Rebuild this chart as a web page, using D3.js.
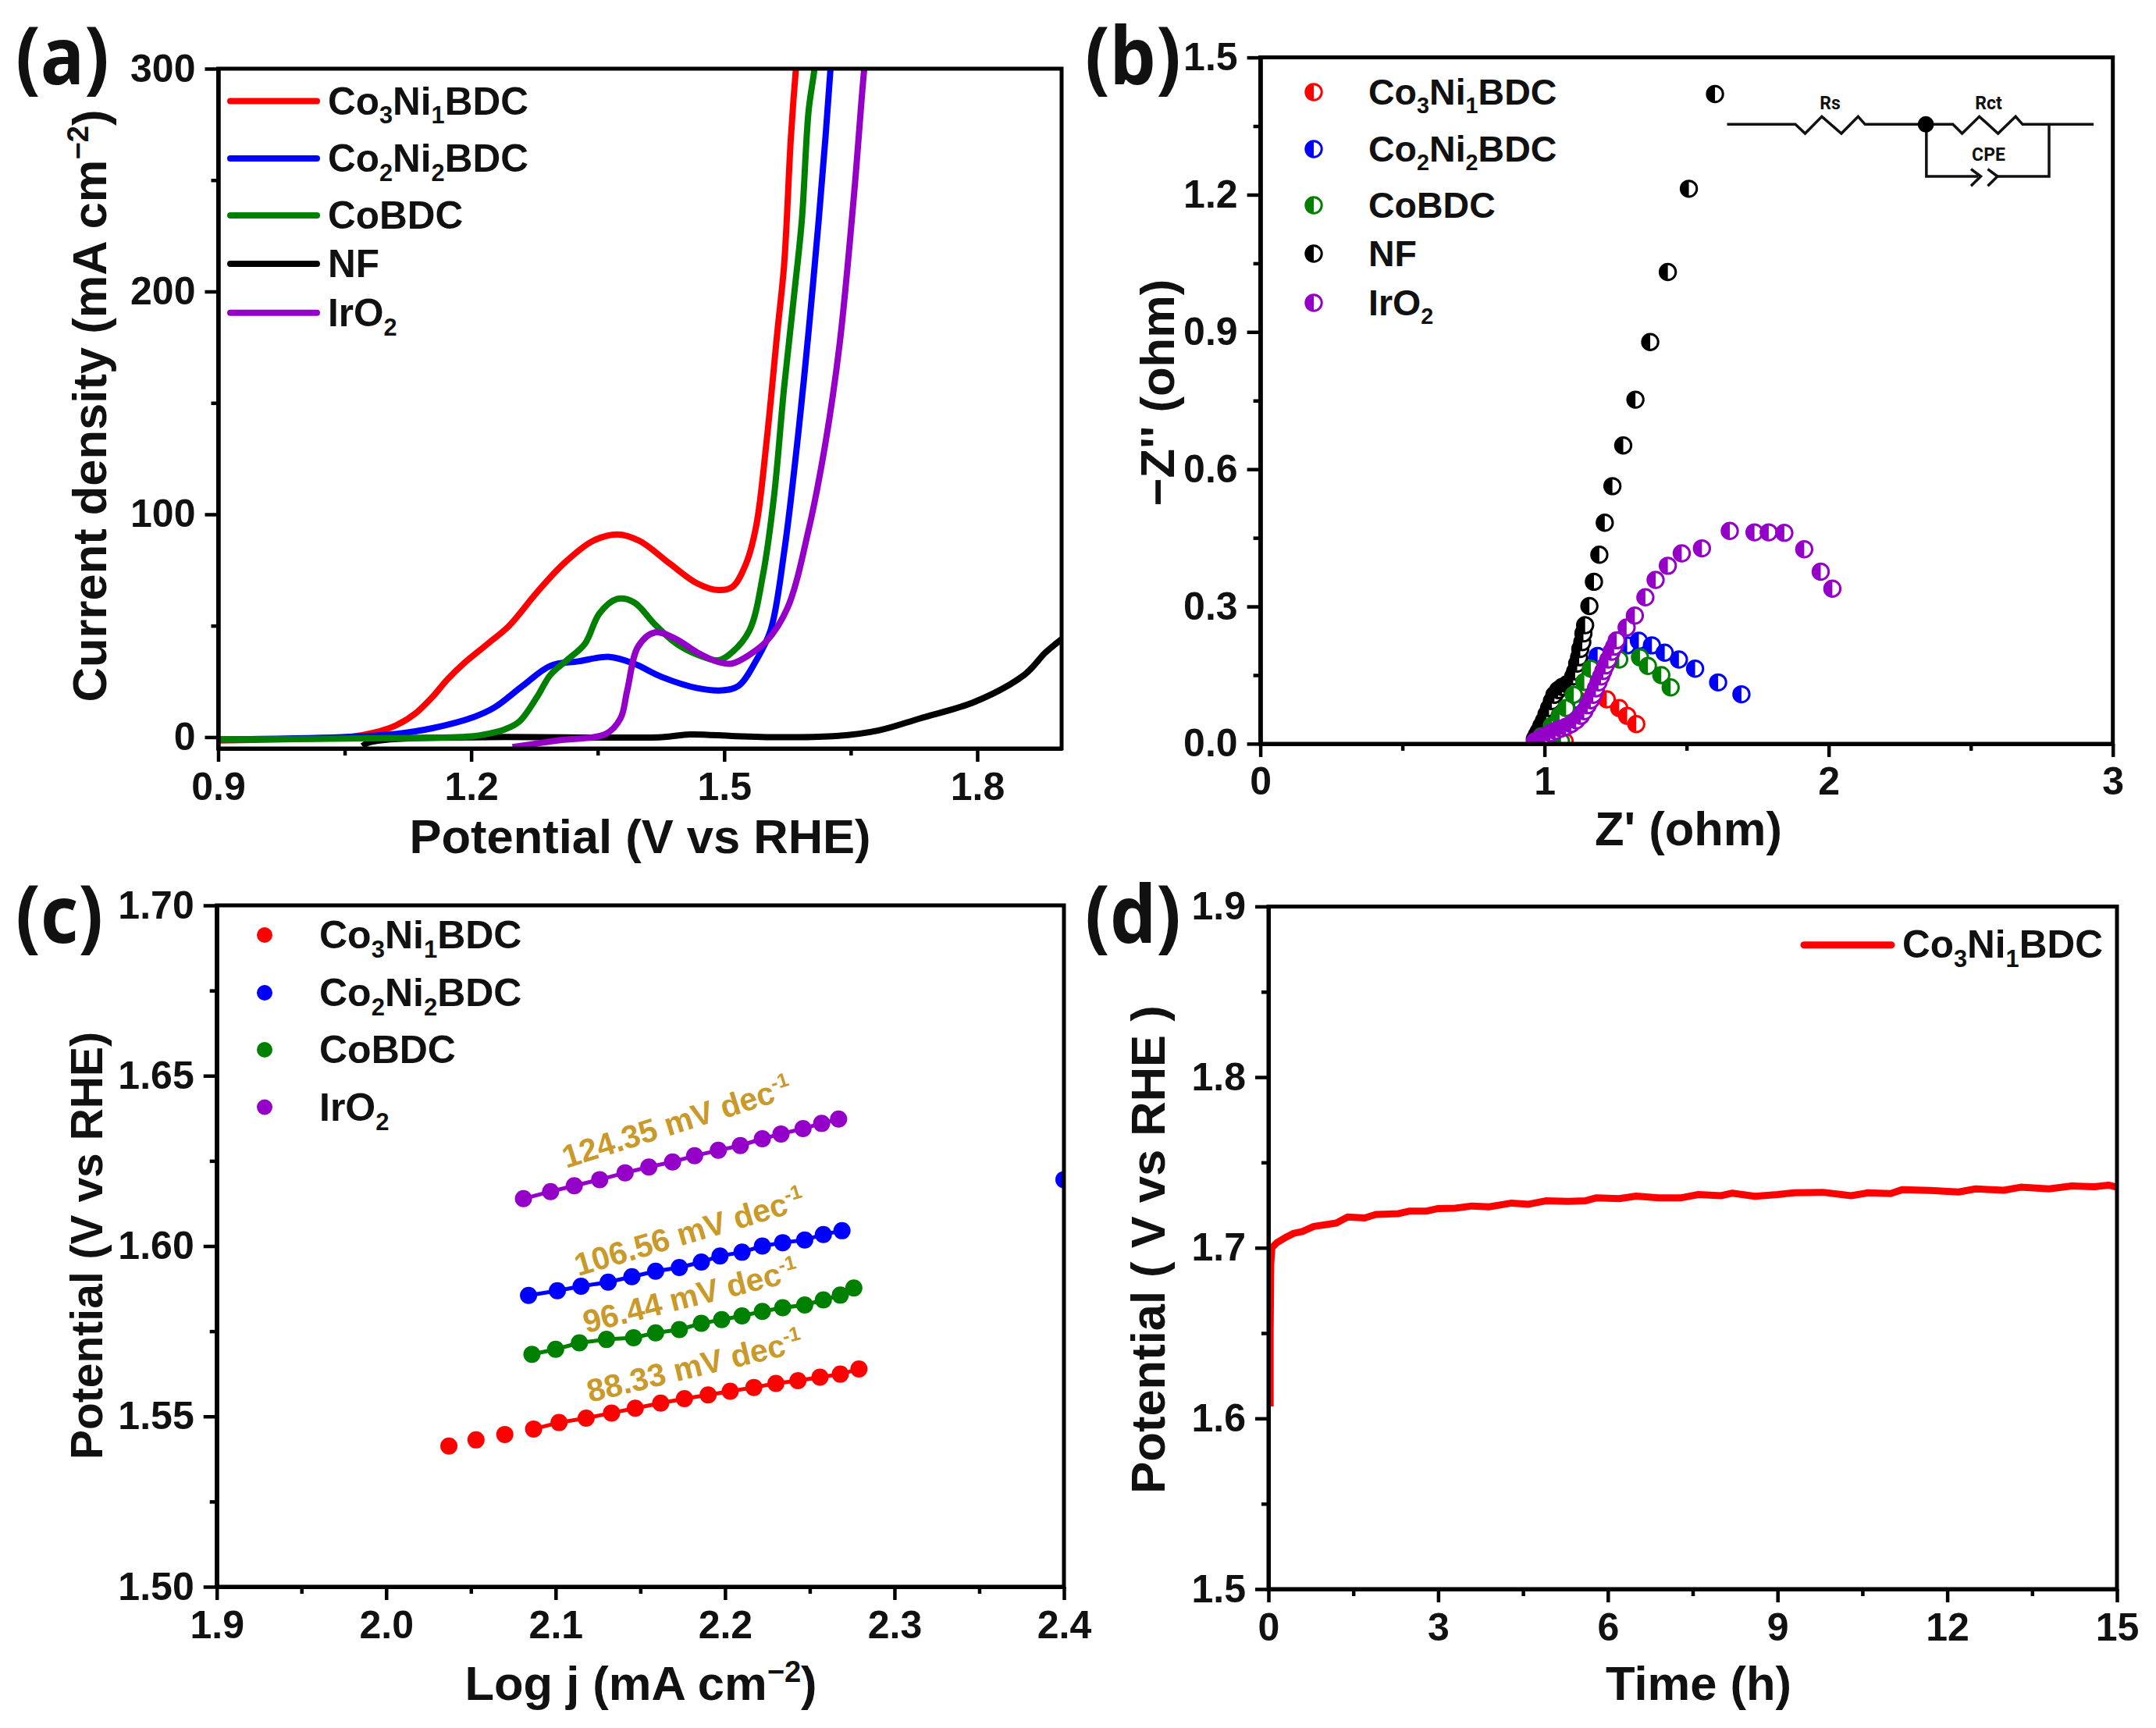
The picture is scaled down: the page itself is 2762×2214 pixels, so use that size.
<!DOCTYPE html>
<html>
<head>
<meta charset="utf-8">
<script src="https://d3js.org/d3.v7.min.js"></script>
<style>
html,body{margin:0;padding:0;background:#fff}
svg{display:block}
text{font-family:"Liberation Sans",Arial,sans-serif;font-weight:700;fill:#111}
</style>
</head>
<body>
<div id="chart"></div>
<script>
// ---------- Panel (a) LSV curves: [potential, current density]
const lsvRed = [[0.9,-1.5],[1.0,-0.8],[1.055,0],[1.085,2],[1.112,5.5],[1.135,11],[1.154,18],[1.172,26],[1.191,33],[1.22,42],[1.245,50],[1.278,65],[1.31,78],[1.344,88],[1.373,91],[1.40,88],[1.435,78],[1.468,69],[1.493,66],[1.51,67.5],[1.526,78],[1.538,95],[1.55,132],[1.563,182],[1.571,212],[1.579,269],[1.585,300],[1.59,320]];
const lsvBlue = [[0.9,-1],[1.046,0],[1.112,1.5],[1.154,4],[1.203,9],[1.228,13.4],[1.261,23],[1.294,32],[1.327,34],[1.364,36],[1.393,33],[1.426,27],[1.468,22],[1.497,21],[1.517,23],[1.538,34.5],[1.555,48],[1.571,83],[1.588,137],[1.6,182],[1.612,232],[1.62,269],[1.626,300],[1.63,320]];
const lsvGreen = [[0.9,-1],[1.1,-0.5],[1.2,0.3],[1.22,1.5],[1.24,3.5],[1.257,7],[1.278,18],[1.294,28],[1.315,35],[1.335,42],[1.352,55.5],[1.373,62],[1.393,60.5],[1.418,50.5],[1.443,42],[1.468,37],[1.493,34.5],[1.509,38],[1.53,48],[1.546,73],[1.559,108],[1.571,157],[1.583,199],[1.592,232],[1.6,281],[1.607,300],[1.612,320]];
const lsvBlack = [[1.071,-4],[1.078,-2.5],[1.104,-1],[1.22,0],[1.426,0],[1.459,1.2],[1.509,0.5],[1.55,0],[1.633,0.5],[1.683,3],[1.732,8.4],[1.798,16],[1.856,28],[1.881,38],[1.9,44]];
const lsvPurple = [[1.249,-4.5],[1.302,-1.5],[1.36,1.5],[1.377,8.4],[1.385,21],[1.398,40.7],[1.418,47],[1.443,44],[1.468,38],[1.493,33.7],[1.509,33],[1.53,37],[1.55,43],[1.575,58],[1.6,93],[1.62,132],[1.637,177],[1.654,244],[1.666,300],[1.672,320]];

// ---------- Panel (b) Nyquist points: [Z', -Z'']
const eisRed = [[1.323,.043],[1.291,.061],[1.263,.078],[1.219,.097],[1.117,.096],[1.071,.005],[1.09,.07],[1.06,.045],[1.03,.025],[1.0,.012]];
const eisBlue = [[1.693,.108],[1.611,.134],[1.53,.164],[1.473,.184],[1.423,.199],[1.378,.215],[1.332,.225],[1.291,.215],[1.187,.192],[1.154,.17],[1.126,.141],[1.108,.096],[1.08,.07],[1.045,.035],[1.01,.012]];
const eisGreen = [[1.444,.123],[1.411,.15],[1.364,.17],[1.336,.189],[1.263,.184],[1.163,.164],[1.14,.135],[1.103,.107],[1.076,.078],[1.053,.061],[1.026,.039],[.989,.016],[1.058,.005]];
const eisBlack = [[1.6,1.42],[1.508,1.213],[1.434,1.031],[1.372,.878],[1.32,.752],[1.277,.652],[1.239,.563],[1.212,.483],[1.193,.413],[1.174,.354],[1.158,.301],[1.143,.259],[1.137,.241],[1.133,.222],[1.126,.207],[1.122,.189],[1.115,.175],[1.108,.158],[1.101,.147],[1.094,.135],[1.079,.13],[1.062,.124],[1.048,.117],[1.035,.107],[1.026,.093],[1.016,.078],[1.007,.064],[.998,.05],[.989,.039],[.98,.027],[.973,.019],[.966,.01]];
const eisPurple = [[2.013,.339],[1.972,.376],[1.914,.425],[1.844,.461],[1.789,.462],[1.739,.462],[1.652,.465],[1.554,.427],[1.483,.416],[1.434,.389],[1.391,.358],[1.355,.32],[1.318,.28],[1.289,.254],[1.254,.226],[1.245,.212],[1.236,.201],[1.225,.184],[1.215,.171],[1.207,.159],[1.199,.147],[1.19,.134],[1.181,.121],[1.172,.107],[1.163,.095],[1.152,.084],[1.14,.071],[1.128,.061],[1.112,.051],[1.094,.043],[1.076,.037],[1.058,.033],[1.039,.028],[1.021,.023],[1.003,.017],[.984,.011],[.966,.005]];

// ---------- Panel (c) Tafel points: [log j, potential]
const tafelRed = [[2.037,1.5413],[2.053,1.5431],[2.07,1.5447],[2.087,1.5463],[2.102,1.5482],[2.118,1.5495],[2.133,1.551],[2.147,1.5524],[2.162,1.5539],[2.176,1.5552],[2.19,1.5563],[2.203,1.5574],[2.217,1.5585],[2.23,1.5597],[2.243,1.5605],[2.256,1.5615],[2.268,1.5624],[2.279,1.5639]];
const tafelRedFitStart = 3;
const tafelBlue = [[2.084,1.5855],[2.101,1.5869],[2.115,1.5882],[2.131,1.5894],[2.145,1.591],[2.159,1.5926],[2.173,1.5937],[2.186,1.5953],[2.197,1.5971],[2.21,1.5982],[2.222,1.6],[2.234,1.601],[2.247,1.6018],[2.258,1.6034],[2.269,1.6045]];
const tafelBlueStray = [[2.4,1.6195]];
const tafelGreen = [[2.086,1.5682],[2.1,1.5697],[2.114,1.5716],[2.13,1.5726],[2.146,1.5731],[2.159,1.5745],[2.173,1.5755],[2.186,1.5773],[2.198,1.5784],[2.21,1.5795],[2.222,1.5808],[2.234,1.5819],[2.247,1.5827],[2.258,1.5842],[2.268,1.5856],[2.276,1.5877]];
const tafelPurple = [[2.081,1.6139],[2.097,1.616],[2.111,1.6177],[2.126,1.6195],[2.141,1.6215],[2.155,1.6232],[2.169,1.6247],[2.182,1.6265],[2.196,1.6281],[2.209,1.6295],[2.222,1.6315],[2.233,1.6329],[2.246,1.6345],[2.257,1.636],[2.267,1.6373]];
const tafelSlopes = ["124.35 mV dec","106.56 mV dec","96.44 mV dec","88.33 mV dec"];

// ---------- Panel (d) stability: [time, potential]
const stability = [[0.03,1.607],[0.03,1.65],[0.04,1.69],[0.06,1.7],[0.15,1.703],[0.3,1.706],[0.45,1.7085],[0.6,1.7095],[0.8,1.7125],[1.0,1.7135],[1.2,1.7145],[1.4,1.718],[1.7,1.7175],[1.9,1.7195],[2.3,1.72],[2.5,1.7215],[2.8,1.7215],[3.0,1.723],[3.3,1.7232],[3.6,1.7245],[3.9,1.724],[4.3,1.7262],[4.6,1.7255],[4.9,1.7275],[5.3,1.7272],[5.6,1.7275],[5.8,1.7293],[6.2,1.7288],[6.5,1.7303],[6.9,1.7292],[7.3,1.7293],[7.6,1.7312],[8.0,1.7305],[8.2,1.732],[8.6,1.7302],[9.0,1.7312],[9.3,1.7322],[9.8,1.7325],[10.3,1.7305],[10.6,1.7322],[11.0,1.7318],[11.2,1.734],[11.7,1.7336],[12.2,1.7327],[12.5,1.7345],[13.0,1.7337],[13.3,1.7355],[13.8,1.7345],[14.2,1.7362],[14.6,1.7358],[14.85,1.7367],[15,1.7355]];

// ---------- Labels and tick values
const names = ["Co_3Ni_1BDC","Co_2Ni_2BDC","CoBDC","NF","IrO_2"];
const cRed="#ff0000", cBlue="#0000ff", cGreen="#008000", cBlack="#000000", cPurple="#9400c8", cGold="#c9992a";
const aXTicks=[0.9,1.2,1.5,1.8], aXMinor=[1.05,1.35,1.65], aYTicks=[0,100,200,300], aYMinor=[50,150,250];
const bXTicks=[0,1,2,3], bXMinor=[0.5,1.5,2.5], bYTicks=[0,0.3,0.6,0.9,1.2,1.5], bYMinor=[0.15,0.45,0.75,1.05,1.35];
const cXTicks=[1.9,2.0,2.1,2.2,2.3,2.4], cXMinor=[1.95,2.05,2.15,2.25,2.35], cYTicks=[1.5,1.55,1.6,1.65,1.7], cYMinor=[1.525,1.575,1.625,1.675];
const dXTicks=[0,3,6,9,12,15], dXMinor=[1.5,4.5,7.5,10.5,13.5], dYTicks=[1.5,1.6,1.7,1.8,1.9], dYMinor=[1.55,1.65,1.75,1.85];

const W=2762,H=2214;
const svg=d3.select("#chart").append("svg").attr("width",W).attr("height",H).attr("viewBox",`0 0 ${W} ${H}`);
svg.append("rect").attr("width",W).attr("height",H).attr("fill","#fff");

function rich(sel,str,size){
  const parts=[];const re=/_(\d)|\^\{([^}]*)\}/g;let m,last=0;
  while((m=re.exec(str))){ if(m.index>last)parts.push([str.slice(last,m.index),0]);
    if(m[1])parts.push([m[1],1]); else parts.push([m[2],-1]); last=re.lastIndex;}
  if(last<str.length)parts.push([str.slice(last),0]);
  let pend=0;
  parts.forEach(([t,k])=>{
    const span=sel.append("tspan").text(t);
    let dy=pend;
    if(k===1){span.attr("font-size",size*0.62);dy+=size*0.24;pend=-size*0.24;}
    else if(k===-1){span.attr("font-size",size*0.62);dy-=size*0.38;pend=size*0.38;}
    else pend=0;
    if(dy)span.attr("dy",dy);
  });
  return sel;
}
const TICK=50, TITLE=61.5;
function panel(o){
  const g=svg.append("g");
  const x=d3.scaleLinear().domain(o.xd).range([o.l,o.r]);
  const y=d3.scaleLinear().domain(o.yd).range([o.b,o.t]);
  const clip="clip"+o.id;
  g.append("clipPath").attr("id",clip).append("rect").attr("x",o.l).attr("y",o.t).attr("width",o.r-o.l).attr("height",o.b-o.t);
  const plot=g.append("g").attr("clip-path",`url(#${clip})`);
  const sw=5;
  const style=(ax)=>{ax.selectAll("path").attr("stroke","#000").attr("stroke-width",sw);ax.selectAll("line").attr("stroke","#000").attr("stroke-width",4.5);ax.selectAll("text").attr("font-size",TICK).attr("fill","#111");};
  const axes=g.append("g");
  const ax1=axes.append("g").attr("transform",`translate(0,${o.b})`).call(d3.axisBottom(x).tickValues(o.xt).tickFormat(o.xf).tickSize(17).tickSizeOuter(0).tickPadding(13));
  const ax2=axes.append("g").attr("transform",`translate(${o.l},0)`).call(d3.axisLeft(y).tickValues(o.yt).tickFormat(o.yf).tickSize(17).tickSizeOuter(0).tickPadding(12));
  style(ax1);style(ax2);
  const mx=axes.append("g").attr("transform",`translate(0,${o.b})`).call(d3.axisBottom(x).tickValues(o.xm).tickFormat("").tickSize(9).tickSizeOuter(0));
  const my=axes.append("g").attr("transform",`translate(${o.l},0)`).call(d3.axisLeft(y).tickValues(o.ym).tickFormat("").tickSize(9).tickSizeOuter(0));
  style(mx);style(my);
  axes.append("path").attr("d",`M${o.l},${o.b}V${o.t}H${o.r}V${o.b}Z`).attr("fill","none").attr("stroke","#000").attr("stroke-width",sw);
  rich(g.append("text").attr("x",(o.xtx)).attr("y",o.xty).attr("text-anchor","middle").attr("font-size",TITLE),o.xtitle,TITLE);
  const ys=o.ysize||TITLE;
  rich(g.append("text").attr("transform",`translate(${o.ytx},${o.yty}) rotate(-90)`).attr("text-anchor","middle").attr("font-size",ys),o.ytitle,ys);
  g.append("text").attr("transform",`translate(${o.lx},${o.ly}) scale(0.92,1)`).attr("font-size",102).style("font-family","'Noto Sans'").attr("fill","#000").text(o.label);
  return {g,x,y,plot,axes};
}
const f1=d3.format(".1f"),f0=d3.format("d"),f2=d3.format(".2f");

// ---------- (a)
const A=panel({id:"a",l:279.5,r:1360,t:88,b:959,xd:[0.9,1.9],yd:[-5.1,300],xt:aXTicks,xm:aXMinor,yt:aYTicks,ym:aYMinor,xf:f1,yf:f0,
  xtitle:"Potential (V vs RHE)",xtx:820,xty:1093,ytitle:"Current density (mA cm^{−2})",ytx:136,yty:520,label:"(a)",lx:20,ly:108});
const lineA=d3.line().x(d=>A.x(d[0])).y(d=>A.y(d[1])).curve(d3.curveCatmullRom.alpha(0.5));
[[lsvBlack,cBlack],[lsvRed,cRed],[lsvBlue,cBlue],[lsvGreen,cGreen],[lsvPurple,cPurple]].forEach(([d,c])=>{
  A.plot.append("path").datum(d).attr("d",lineA).attr("fill","none").attr("stroke",c).attr("stroke-width",8).attr("stroke-linejoin","round");
});
const aColors=[cRed,cBlue,cGreen,cBlack,cPurple];
const aLegPos=[129.5,203,276,338,400.7];
names.forEach((n,i)=>{
  A.g.append("line").attr("x1",295).attr("x2",406).attr("y1",aLegPos[i]).attr("y2",aLegPos[i]).attr("stroke",aColors[i]).attr("stroke-width",8).attr("stroke-linecap","round");
  rich(A.g.append("text").attr("x",420).attr("y",aLegPos[i]+17).attr("font-size",49.5),n,49.5);
});

// ---------- (b)
const B=panel({id:"b",l:1614.6,r:2706.7,t:73.6,b:952.9,xd:[0,3],yd:[0,1.5],xt:bXTicks,xm:bXMinor,yt:bYTicks,ym:bYMinor,xf:f0,yf:f1,
  xtitle:"Z' (ohm)",xtx:2163,xty:1083,ytitle:"−Z'' (ohm)",ytx:1504,yty:503,label:"(b)",lx:1390,ly:108});
const R=10.2;
const halfArc=d3.arc().innerRadius(0).outerRadius(R).startAngle(Math.PI).endAngle(2*Math.PI)();
function half(sel,c){
  sel.append("circle").attr("r",R).attr("fill","#fff").attr("stroke",c).attr("stroke-width",3);
  sel.append("path").attr("d",halfArc).attr("fill",c);
}
[[eisRed,cRed],[eisBlue,cBlue],[eisBlack,cBlack],[eisGreen,cGreen],[eisPurple,cPurple]].forEach(([d,c])=>{
  const ordered=d.slice().sort((p,q)=>d3.ascending(p[0],q[0]));
  B.plot.append("g").selectAll("g").data(ordered).join("g").attr("transform",p=>`translate(${B.x(p[0])},${B.y(p[1])})`).each(function(){half(d3.select(this),c);});
});
const bLegPos=[118,191,263,325,388];
names.forEach((n,i)=>{
  half(B.g.append("g").attr("transform",`translate(1683,${bLegPos[i]})`),aColors[i]);
  rich(B.g.append("text").attr("x",1753).attr("y",bLegPos[i]+16).attr("font-size",46.5),n,46.5);
});
const circuitWires=[
 [[175,208],[420,208],[455,243],[515,178],[585,243],[645,178],[670,208],[985,208],[1018,243],[1080,178],[1147,243],[1210,178],[1235,208],[1490,208]],
 [[890,208],[890,408],[1075,408]],[[1330,208],[1330,408],[1145,408]],
 [[1050,380],[1085,408],[1050,445]],[[1110,380],[1145,408],[1110,445]]];
const cirX=d3.scaleLinear().domain([0,560*2.8]).range([2150,2710]);
const cirY=d3.scaleLinear().domain([0,540]).range([90,270]);
const cirLine=d3.line().x(d=>cirX(d[0])).y(d=>cirY(d[1]));
const cir=B.g.append("g");
circuitWires.forEach(w=>cir.append("path").attr("d",cirLine(w)).attr("fill","none").attr("stroke","#111").attr("stroke-width",3.5));
cir.append("circle").attr("cx",cirX(888)).attr("cy",cirY(208)).attr("r",10.5).attr("fill","#000");
[["Rs",545,125],["Rct",1113,125],["CPE",1113,325]].forEach(([t,a,b])=>{
  cir.append("text").attr("x",cirX(a)).attr("y",cirY(b)+8).attr("text-anchor","middle").attr("font-size",23).style("font-family","Roboto").attr("fill","#3a4654").text(t);
});

// ---------- (c)
const C=panel({id:"c",l:277.7,r:1363,t:1160,b:2033,xd:[1.9,2.4],yd:[1.5,1.7],xt:cXTicks,xm:cXMinor,yt:cYTicks,ym:cYMinor,xf:f1,yf:f2,
  xtitle:"Log j (mA cm^{−2})",xtx:821,xty:2178,ytitle:"Potential (V vs RHE)",ysize:57,ytx:131,yty:1596,label:"(c)",lx:20,ly:1208});
const lineC=d3.line().x(d=>C.x(d[0])).y(d=>C.y(d[1]));
[[tafelRed.slice(tafelRedFitStart),cRed],[tafelBlue,cBlue],[tafelGreen,cGreen],[tafelPurple,cPurple]].forEach(([d,c])=>{
  C.plot.append("path").datum(d).attr("d",lineC).attr("fill","none").attr("stroke",c).attr("stroke-width",5);
});
[[tafelRed,cRed],[tafelBlue.concat(tafelBlueStray),cBlue],[tafelGreen,cGreen],[tafelPurple,cPurple]].forEach(([d,c])=>{
  C.plot.append("g").selectAll("circle").data(d).join("circle").attr("cx",p=>C.x(p[0])).attr("cy",p=>C.y(p[1])).attr("r",11).attr("fill",c);
});
const cLeg=["Co_3Ni_1BDC","Co_2Ni_2BDC","CoBDC","IrO_2"],cLegC=[cRed,cBlue,cGreen,cPurple],cLegPos=[1198,1272,1345,1418.5];
cLeg.forEach((n,i)=>{
  C.g.append("circle").attr("cx",339).attr("cy",cLegPos[i]).attr("r",10).attr("fill",cLegC[i]);
  rich(C.g.append("text").attr("x",409).attr("y",cLegPos[i]+17).attr("font-size",50),n,50);
});
[[871,1438,-17.5],[887,1579,-16.5],[888,1661,-14],[893,1751,-13.5]].forEach(([px,py,r],i)=>{
  rich(C.g.append("text").attr("transform",`translate(${px},${py+13}) rotate(${r})`).attr("text-anchor","middle").attr("font-size",41).style("fill",cGold),tafelSlopes[i]+"^{-1}",41);
});
C.g.selectAll("text").filter(function(){return this.textContent.includes("mV dec");}).selectAll("tspan").style("fill",cGold);

// ---------- (d)
const D=panel({id:"d",l:1625,r:2712,t:1161.4,b:2036,xd:[0,15],yd:[1.5,1.9],xt:dXTicks,xm:dXMinor,yt:dYTicks,ym:dYMinor,xf:f0,yf:f1,
  xtitle:"Time (h)",xtx:2176,xty:2178,ytitle:"Potential ( V vs RHE )",ytx:1492,yty:1601,label:"(d)",lx:1390,ly:1208});
const lineD=d3.line().x(d=>D.x(d[0])).y(d=>D.y(d[1]));
D.plot.append("path").datum(stability).attr("d",lineD).attr("fill","none").attr("stroke",cRed).attr("stroke-width",9).attr("stroke-linejoin","round");
D.g.append("line").attr("x1",2311).attr("x2",2423).attr("y1",1210.7).attr("y2",1210.7).attr("stroke",cRed).attr("stroke-width",9).attr("stroke-linecap","round");
rich(D.g.append("text").attr("x",2437).attr("y",1227).attr("font-size",49.5),"Co_3Ni_1BDC",49.5);
</script>
</body>
</html>
